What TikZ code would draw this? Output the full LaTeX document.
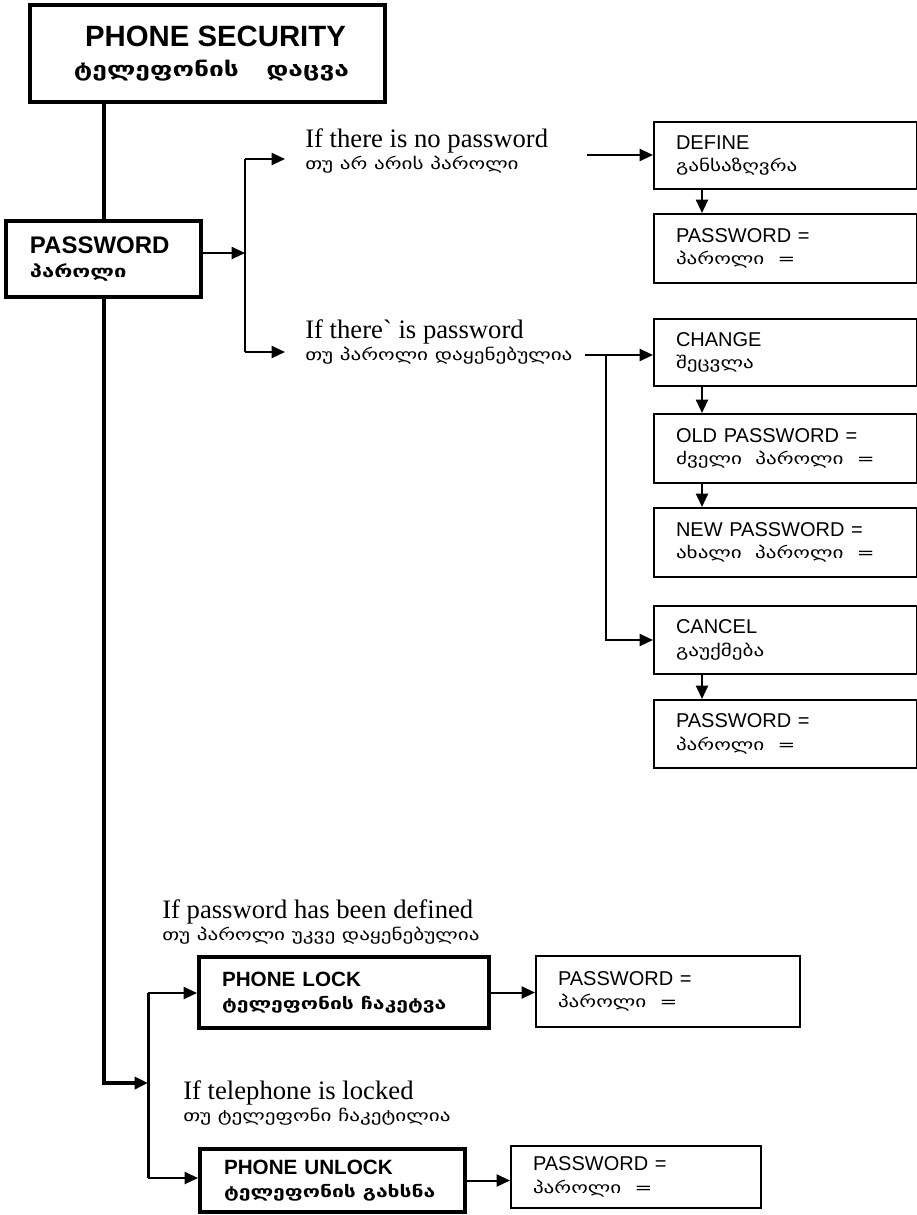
\documentclass[tikz,border=0pt]{standalone}
\usepackage{fontspec}
\setmainfont{Liberation Serif}
\setsansfont{Liberation Sans}
\newfontfamily\condfont{Liberation Serif}
\newfontfamily\geo[FakeStretch=1.32]{DejaVu Sans}
\usetikzlibrary{arrows.meta,positioning,calc}

\begin{document}
\begin{tikzpicture}[x=0.75pt,y=-0.75pt,>={Triangle[length=10pt,width=9pt]},
  thick box/.style={draw,line width=3pt,anchor=north west,inner ysep=0pt,align=left,
    font=\sffamily\bfseries\fontsize{16}{18}\selectfont},
  main box/.style={draw,line width=1.5pt,anchor=north west,inner ysep=0pt,align=left,
    font=\sffamily\fontsize{15}{17}\selectfont},
  right box/.style={main box,minimum width=197.25pt,text width=164.25pt,inner xsep=16.5pt},
  cond text/.style={anchor=north west,inner sep=0pt,align=left,
    font=\condfont\fontsize{20}{17}\selectfont},
  thick line/.style={line width=3pt},
  thin line/.style={line width=1.5pt}]
\useasboundingbox (0,0) rectangle (917,1215);

% main boxes
\node[thick box,align=center,minimum width=266.25pt,minimum height=72.75pt,
  font=\sffamily\bfseries\fontsize{22}{23}\selectfont] (sec) at (28,3)
  {\hspace*{12pt}PHONE SECURITY\\{\geo\fontsize{15}{23}\selectfont\hspace*{6pt}ტელეფონის~~~დაცვა}};
\node[thick box,minimum height=57pt,text width=110.25pt,inner xsep=18pt,
  font=\sffamily\bfseries\fontsize{18}{18}\selectfont] (pass) at (4,219)
  {PASSWORD\\{\geo\fontsize{12.5}{18}\selectfont პაროლი}};

% conditions
\node[cond text] (nopw) at (305,128)
  {If there is no password\\{\geo\fontsize{12}{17}\selectfont თუ არ არის პაროლი}};
\node[cond text] (haspw) at (305,319)
  {If there` is password\\{\geo\fontsize{12}{17}\selectfont თუ პაროლი დაყენებულია}};
\node[cond text] (defpw) at (162,899)
  {If password has been defined\\{\geo\fontsize{12}{17}\selectfont თუ პაროლი უკვე დაყენებულია}};
\node[cond text] (lockd) at (183,1080)
  {If telephone is locked\\{\geo\fontsize{12}{17}\selectfont თუ ტელეფონი ჩაკეტილია}};

% right column
\node[right box,minimum height=50.25pt] (define) at (653,121)
  {DEFINE\\{\geo\fontsize{12}{17}\selectfont განსაზღვრა}};
\node[right box,minimum height=51.75pt] (pwa) at (653,213)
  {PASSWORD =\\{\geo\fontsize{12}{17}\selectfont პაროლი~~=}};
\node[right box,minimum height=50.25pt] (change) at (653,318)
  {CHANGE\\{\geo\fontsize{12}{17}\selectfont შეცვლა}};
\node[right box,minimum height=51.75pt] (old) at (653,413)
  {OLD PASSWORD =\\{\geo\fontsize{12}{17}\selectfont ძველი~~პაროლი~~=}};
\node[right box,minimum height=51.75pt] (new) at (653,507)
  {NEW PASSWORD =\\{\geo\fontsize{12}{17}\selectfont ახალი~~პაროლი~~=}};
\node[right box,minimum height=51pt] (cancel) at (653,605)
  {CANCEL\\{\geo\fontsize{12}{17}\selectfont გაუქმება}};
\node[right box,minimum height=51pt] (pwb) at (653,699)
  {PASSWORD =\\{\geo\fontsize{12}{17}\selectfont პაროლი~~=}};

% lock / unlock
\node[thick box,minimum width=217.5pt,minimum height=53.25pt,text width=183pt,inner xsep=17.25pt,
  font=\sffamily\bfseries\fontsize{15.5}{17}\selectfont] (lock) at (197,955)
  {PHONE LOCK\\{\geo\fontsize{12}{17}\selectfont ტელეფონის ჩაკეტვა}};
\node[main box,minimum width=198pt,minimum height=53.25pt,text width=165pt,inner xsep=16.5pt] (lockpw) at (535,955)
  {PASSWORD =\\{\geo\fontsize{12}{17}\selectfont პაროლი~~=}};
\node[thick box,minimum width=198.75pt,minimum height=47.25pt,text width=162.75pt,inner xsep=18pt,
  font=\sffamily\bfseries\fontsize{15.5}{17}\selectfont] (unlock) at (198,1147)
  {PHONE UNLOCK\\{\geo\fontsize{12}{17}\selectfont ტელეფონის გახსნა}};
\node[main box,minimum width=187.5pt,minimum height=46.5pt,text width=154.5pt,inner xsep=16.5pt] (unlockpw) at (510,1145)
  {PASSWORD =\\{\geo\fontsize{12}{17}\selectfont პაროლი~~=}};

% junctions
\coordinate (b1) at (245,159);
\coordinate (b2) at (245,352);
\coordinate (nopwtip) at (285,159);
\coordinate (haspwtip) at (285,352);
\coordinate (nopwout) at (587,155);
\coordinate (haspwout) at (585,355);
\coordinate (cb) at (606,355);
\coordinate (lbus) at (148,1083);
\coordinate (ltop) at (148,993);
\coordinate (lbot) at (148,1178);

% connectors
\draw[thick line] (pass.north |- sec.south) -- (pass.north);
\draw[thick line,->] (pass.south) |- (lbus);
\draw[thin line,->] (pass.east |- 0,253) -- (b1 |- 0,253);
\draw[thin line] (b1) -- (b2);
\draw[thin line,->] (b1) -- (nopwtip);
\draw[thin line,->] (b2) -- (haspwtip);
\draw[thin line,->] (nopwout) -- (nopwout -| define.west);
\draw[thin line,->] (haspwout) -- (haspwout -| change.west);
\draw[thin line,->] (cb) |- (cancel.west);
\foreach \a/\b in {define/pwa,change/old,old/new,cancel/pwb}
  \draw[thin line,->] ($(\a.south west)+(49,0)$) -- ($(\b.north west)+(49,0)$);
\draw[line width=2.25pt] (ltop) -- (lbot);
\draw[thin line,->] (ltop) -- (ltop -| lock.west);
\draw[thin line,->] (lbot) -- (lbot -| unlock.west);
\draw[thin line,->] (lock.east) -- (lock.east -| lockpw.west);
\draw[thin line,->] (unlock.east) -- (unlock.east -| unlockpw.west);
\end{tikzpicture}
\end{document}
